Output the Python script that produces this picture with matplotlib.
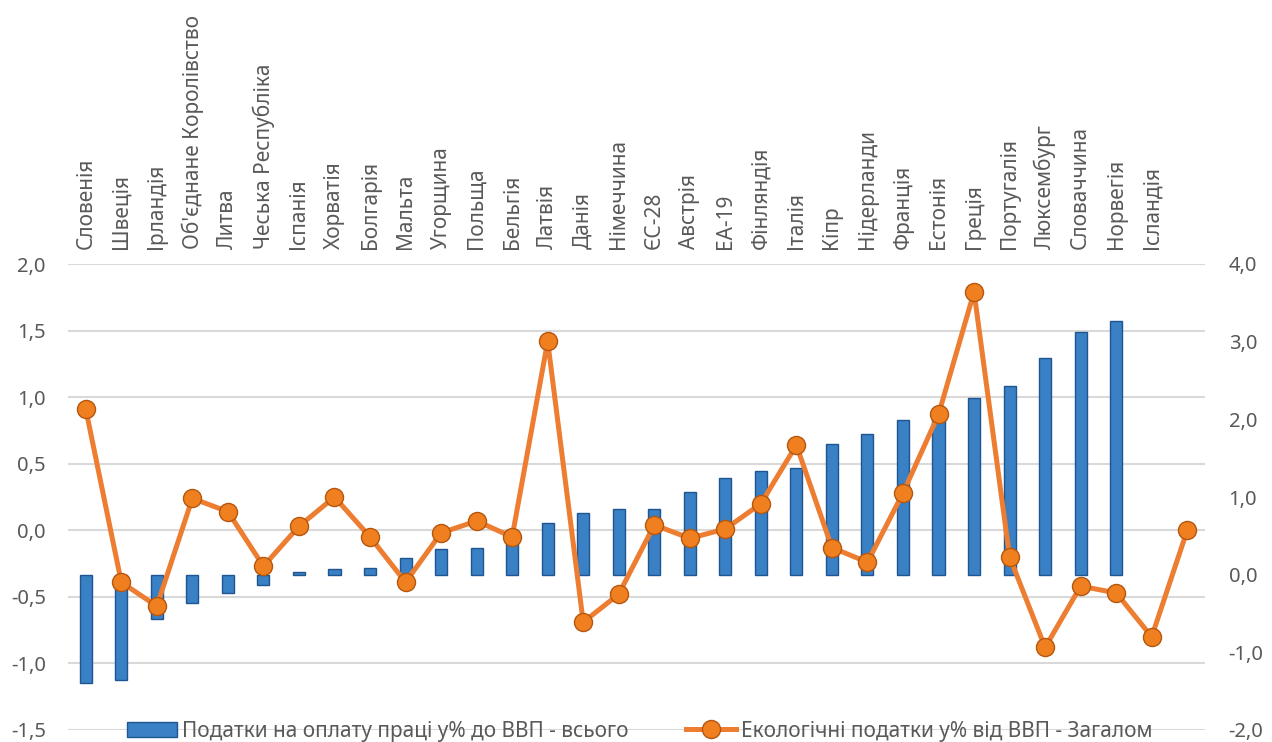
import numpy as np
import matplotlib
matplotlib.use('Agg')
import matplotlib.pyplot as plt
from matplotlib.ticker import FuncFormatter

plt.rcParams['font.family'] = ['Noto Sans', 'DejaVu Sans']

countries = ['Словенія', 'Швеція', 'Ірландія', "Об'єднане Королівство", 'Литва',
             'Чеська Республіка', 'Іспанія', 'Хорватія', 'Болгарія', 'Мальта',
             'Угорщина', 'Польща', 'Бельгія', 'Латвія', 'Данія', 'Німеччина',
             'ЄС-28', 'Австрія', 'ЕА-19', 'Фінляндія', 'Італія', 'Кіпр',
             'Нідерланди', 'Франція', 'Естонія', 'Греція', 'Португалія',
             'Люксембург', 'Словаччина', 'Норвегія', 'Ісландія', '']

# labour taxes (bars, right axis)
labour = [-1.40, -1.35, -0.57, -0.37, -0.23, -0.13, 0.03, 0.07, 0.09, 0.21,
          0.33, 0.34, 0.58, 0.66, 0.79, 0.84, 0.85, 1.06, 1.25, 1.34,
          1.37, 1.68, 1.81, 1.99, 2.12, 2.27, 2.43, 2.79, 3.13, 3.26,
          np.nan, np.nan]

# environmental taxes (line, left axis)
eco = [0.91, -0.39, -0.57, 0.24, 0.14, -0.27, 0.03, 0.25, -0.05, -0.39,
       -0.02, 0.07, -0.05, 1.42, -0.69, -0.48, 0.04, -0.06, 0.01, 0.20,
       0.64, -0.13, -0.24, 0.28, 0.87, 1.79, -0.20, -0.88, -0.42, -0.47,
       -0.80, 0.00]

left_ticks = [-1.5, -1.0, -0.5, 0.0, 0.5, 1.0, 1.5, 2.0]
right_ticks = [-2.0, -1.0, 0.0, 1.0, 2.0, 3.0, 4.0]

label_legend = ['Податки на оплату праці у% до ВВП - всього',
                'Екологічні податки у% від ВВП - Загалом']

grey = '#595959'
comma = FuncFormatter(lambda v, pos: f'{v:.1f}'.replace('.', ','))
x = np.arange(len(countries))

fig = plt.figure(figsize=(12.72, 7.42), dpi=100)
ax = fig.add_axes([68/1272, 1 - 730/742, (1205 - 68)/1272, (730 - 264)/742])

# left axis: grid + labels
ax.set_ylim(left_ticks[0], left_ticks[-1])
ax.set_yticks(left_ticks)
ax.yaxis.set_major_formatter(comma)
ax.grid(axis='y', color='#d9d9d9', linewidth=1.5)
ax.set_axisbelow(True)
ax.set_xlim(-0.5, len(countries) - 0.5)
ax.set_xticks(x)
ax.set_xticklabels(countries, rotation=90)
ax.xaxis.tick_top()
ax.tick_params(axis='x', length=0, pad=11, labelsize=15, labelcolor=grey)
ax.tick_params(axis='y', length=0, pad=16, labelsize=14.5, labelcolor=grey)
for s in ax.spines.values():
    s.set_visible(False)

# right axis: bars
ax2 = ax.twinx()
ax2.set_ylim(right_ticks[0], right_ticks[-1])
ax2.set_yticks(right_ticks)
ax2.yaxis.set_major_formatter(comma)
ax2.tick_params(axis='y', length=0, pad=17, labelsize=14.5, labelcolor=grey)
bars = ax2.bar(x, labour, width=0.34, color='#3a80c4', edgecolor='#1f5590',
               linewidth=1, label=label_legend[0])
for s in ax2.spines.values():
    s.set_visible(False)

# line on top, same scale as left axis
ax3 = ax.twinx()
ax3.set_ylim(ax.get_ylim())
ax3.axis('off')
line, = ax3.plot(x, eco, color='#ed7d31', linewidth=3.6, marker='o',
                 markersize=13, markerfacecolor='#f0801f',
                 markeredgecolor='#b5560f', markeredgewidth=1,
                 label=label_legend[1], zorder=3)

fig.legend([bars, line], label_legend, loc='center', ncol=2,
           bbox_to_anchor=(0.503, 1 - 731/742), frameon=False,
           fontsize=15, labelcolor=grey, handlelength=2.4,
           handletextpad=0.2, columnspacing=2.8, borderaxespad=0)

plt.savefig('out.png', dpi=100)
